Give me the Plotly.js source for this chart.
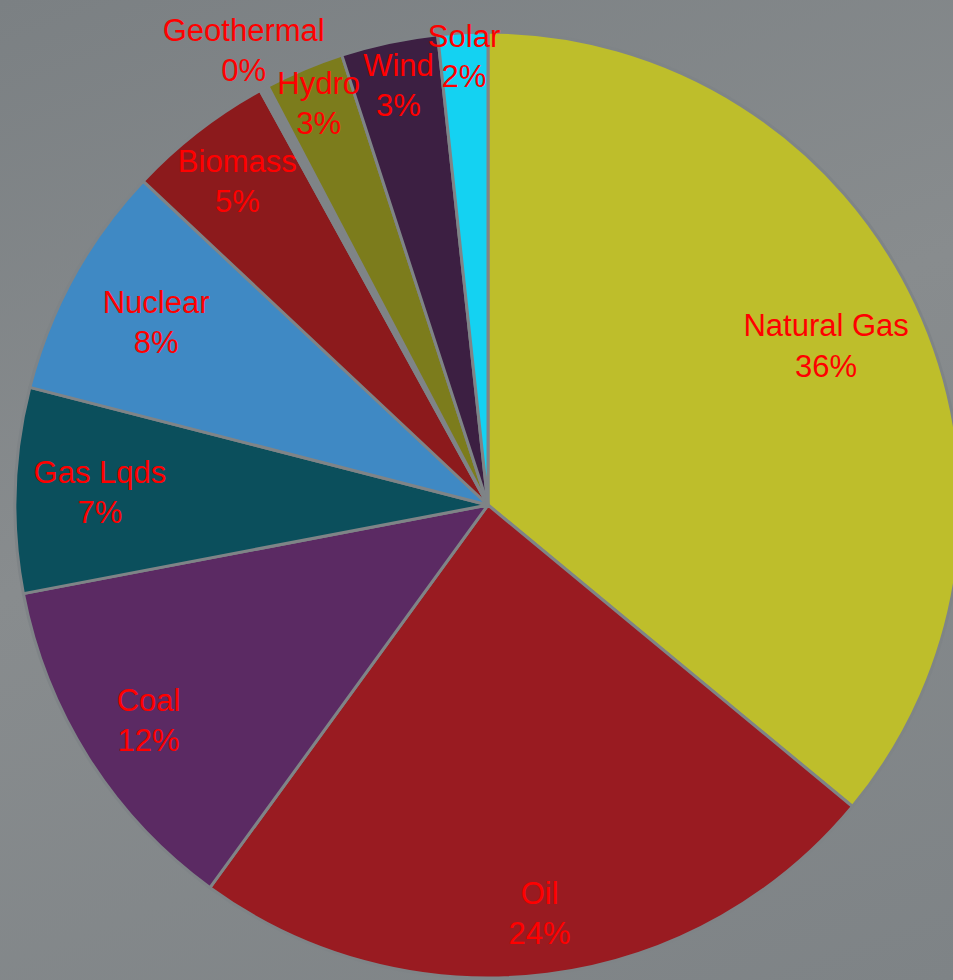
<!DOCTYPE html>
<html>
<head>
<meta charset="utf-8">
<script src="https://cdn.plot.ly/plotly-3.0.1.min.js"></script>
<style>
  html, body { margin: 0; padding: 0; overflow: hidden; width: 953px; height: 980px; }
  body { position: relative; background: linear-gradient(160deg, #7b8083 0%, #888c8e 45%, #7e8386 100%); }
  #chart { position: absolute; left: -40px; top: -30px; width: 1100px; height: 1100px; }
</style>
</head>
<body>
<div id="chart"></div>
<script>
// energy mix pie

var sources = ["Natural Gas", "Oil", "Coal", "Gas Lqds", "Nuclear", "Biomass", "Geothermal", "Hydro", "Wind", "Solar"];
var shares = [36, 24, 12, 7, 8, 5, 0.3, 2.7, 3.3, 1.7];
var sliceColors = ["#bebe2b", "#991b21", "#5b2a63", "#0b4f5c", "#3f89c4", "#8c1a1c", "#7f8487", "#7c7c1c", "#3c1f42", "#14d2f2"];
// nudges the labels outward (Geothermal sits past the rim)
var labelPull = [0, 0.08, 0.06, 0, 0, 0, 0.1, 0, 0, 0];

// plot box is 1100x1100, shifted by the div offset; pie centre on page (488, 505), radius 473
var W = 1100, H = 1100, offX = 40, offY = 30;
var cx = 488 + offX, cy = 505 + offY, R = 473;

function domainFor(half) {
    return {
        x: [(cx - half) / W, (cx + half) / W],
        y: [(H - cy - half) / H, (H - cy + half) / H]
    };
}

var maxPull = Math.max.apply(null, labelPull);

// slices, no text
var slices = {
    type: 'pie',
    labels: sources,
    values: shares,
    sort: false,
    direction: 'clockwise',
    rotation: 0,
    domain: domainFor(R),
    textinfo: 'none',
    marker: {
        colors: sliceColors,
        line: { color: '#7f8487', width: 3 }
    },
    hoverinfo: 'none'
};

// same pie as a ring, only for the labels (pushes them out toward the rim)
var labelsRing = {
    type: 'pie',
    labels: sources,
    values: shares,
    sort: false,
    direction: 'clockwise',
    rotation: 0,
    hole: 0.58,
    pull: labelPull,
    domain: domainFor(R * (1 + maxPull)),
    texttemplate: '%{label}<br>%{percent:.0%}',
    textposition: 'inside',
    insidetextorientation: 'horizontal',
    textfont: { family: 'Liberation Sans, Arial, sans-serif', size: 31, color: '#ff0000' },
    marker: {
        colors: sources.map(function () { return 'rgba(0,0,0,0)'; }),
        line: { width: 0 }
    },
    hoverinfo: 'none'
};

var layout = {
    width: W,
    height: H,
    margin: { l: 0, r: 0, t: 0, b: 0 },
    paper_bgcolor: 'rgba(0,0,0,0)',
    plot_bgcolor: 'rgba(0,0,0,0)',
    showlegend: false,
    uniformtext: { minsize: 31, mode: 'show' }
};

Plotly.newPlot('chart', [slices, labelsRing], layout, { displayModeBar: false, staticPlot: true });
</script>
</body>
</html>
